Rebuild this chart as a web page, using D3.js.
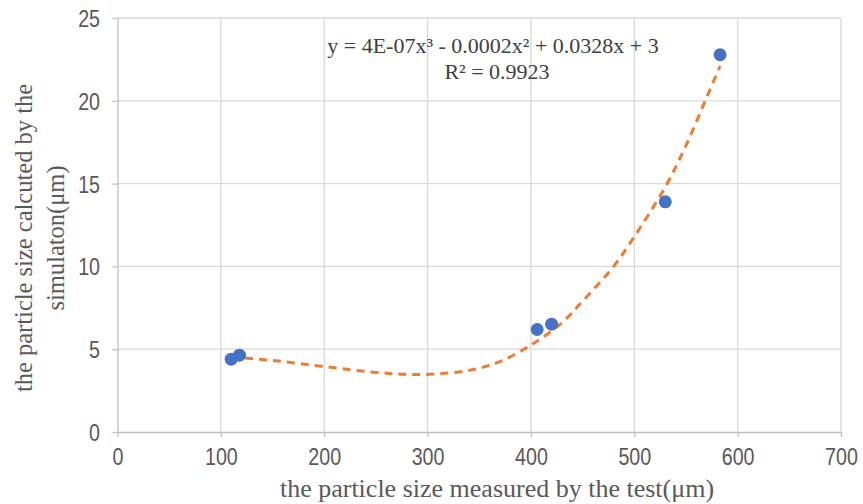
<!DOCTYPE html>
<html>
<head>
<meta charset="utf-8">
<script src="https://cdn.jsdelivr.net/npm/d3@7"></script>
<style>
  body { margin: 0; background: #fff; }
</style>
</head>
<body>
<div id="chart"></div>
<script>
// measured points (test vs simulation, um)
var testSize = [110, 118, 406, 420, 530, 583];
var simSize = [4.4, 4.64, 6.19, 6.51, 13.9, 22.78];

// poly trendline
var trendX = [110, 150, 200, 250, 290, 330, 350, 370, 400, 430, 450, 480, 500, 530, 550, 570, 583];
var trendY = [4.53, 4.32, 3.95, 3.6, 3.47, 3.62, 3.85, 4.25, 5.25, 6.6, 7.9, 10.0, 11.8, 14.8, 17.3, 20.2, 22.1];

var xTicks = [0, 100, 200, 300, 400, 500, 600, 700];
var yTicks = [0, 5, 10, 15, 20, 25];

var eqText = "y = 4E-07x\u00b3 - 0.0002x\u00b2 + 0.0328x + 3";
var r2Text = "R\u00b2 = 0.9923";

var W = 863, H = 504;
var margin = {top: 18, right: 22, bottom: 72, left: 117.5};
var width = W - margin.left - margin.right,
    height = H - margin.top - margin.bottom;

var svg = d3.select("#chart").append("svg")
    .attr("width", W)
    .attr("height", H);

var g = svg.append("g")
    .attr("transform", "translate(" + margin.left + "," + margin.top + ")");

var xScale = d3.scaleLinear().domain([0, 700]).range([0, width]);
var yScale = d3.scaleLinear().domain([0, 25]).range([height, 0]);

// gridlines
g.selectAll(".vgrid").data(xTicks.slice(1)).enter().append("line")
    .attr("x1", d => xScale(d)).attr("x2", d => xScale(d))
    .attr("y1", 0).attr("y2", height)
    .attr("stroke", "#d9d9d9").attr("stroke-width", 1.3);
g.selectAll(".hgrid").data(yTicks.slice(1)).enter().append("line")
    .attr("x1", 0).attr("x2", width)
    .attr("y1", d => yScale(d)).attr("y2", d => yScale(d))
    .attr("stroke", "#d9d9d9").attr("stroke-width", 1.3);

// axes
var xAxis = g.append("g")
    .attr("transform", "translate(0," + height + ")")
    .call(d3.axisBottom(xScale).tickValues(xTicks).tickSize(5).tickSizeOuter(0));
var yAxis = g.append("g")
    .call(d3.axisLeft(yScale).tickValues(yTicks).tickSize(5).tickSizeOuter(0));

// tick labels are a narrow face in the original, squeeze a regular one
var sx = 0.82;
[xAxis, yAxis].forEach(function(a) {
    a.select(".domain").attr("stroke", "#bfbfbf").attr("stroke-width", 1.3);
    a.selectAll(".tick line").attr("stroke", "#bfbfbf").attr("stroke-width", 1.3);
    a.selectAll(".tick text")
        .attr("fill", "#595959")
        .attr("transform", "scale(" + sx + ",1)")
        .style("font-family", "'Liberation Sans', Arial, sans-serif")
        .style("font-size", "24px");
});
xAxis.selectAll(".tick text").attr("dy", null).attr("y", 33);
yAxis.selectAll(".tick text").attr("x", -17.5 / sx).attr("dy", "0.35em");

// trendline
var line = d3.line()
    .x(function(d, i) { return xScale(trendX[i]); })
    .y(function(d) { return yScale(d); })
    .curve(d3.curveCatmullRom);

g.append("path")
    .datum(trendY)
    .attr("d", line)
    .attr("fill", "none")
    .attr("stroke", "#ed7d31")
    .attr("stroke-width", 3)
    .attr("stroke-dasharray", "8,6");

// points
g.selectAll(".dot").data(simSize).enter().append("circle")
    .attr("cx", function(d, i) { return xScale(testSize[i]); })
    .attr("cy", function(d) { return yScale(d); })
    .attr("r", 6.5)
    .attr("fill", "#4472c4");

// equation label
var serif = "'Liberation Serif', 'Times New Roman', serif";
svg.append("text")
    .attr("x", 493).attr("y", 53)
    .attr("text-anchor", "middle")
    .attr("fill", "#404040")
    .style("font-family", serif).style("font-size", "22px")
    .text(eqText);
svg.append("text")
    .attr("x", 497).attr("y", 79)
    .attr("text-anchor", "middle")
    .attr("fill", "#404040")
    .style("font-family", serif).style("font-size", "22px")
    .text(r2Text);

// axis titles
svg.append("text")
    .attr("x", 497).attr("y", 497)
    .attr("text-anchor", "middle")
    .attr("fill", "#595959")
    .style("font-family", serif).style("font-size", "26px")
    .text("the particle size measured by the test(\u03bcm)");

var yTitle = svg.append("text")
    .attr("transform", "translate(32,238) rotate(-90)")
    .attr("text-anchor", "middle")
    .attr("fill", "#595959")
    .style("font-family", serif).style("font-size", "24.5px");
yTitle.append("tspan").attr("x", 0).attr("y", 0).text("the particle size calcuted by the");
yTitle.append("tspan").attr("x", 0).attr("y", 32).text("simulaton(\u03bcm)");
</script>
</body>
</html>
